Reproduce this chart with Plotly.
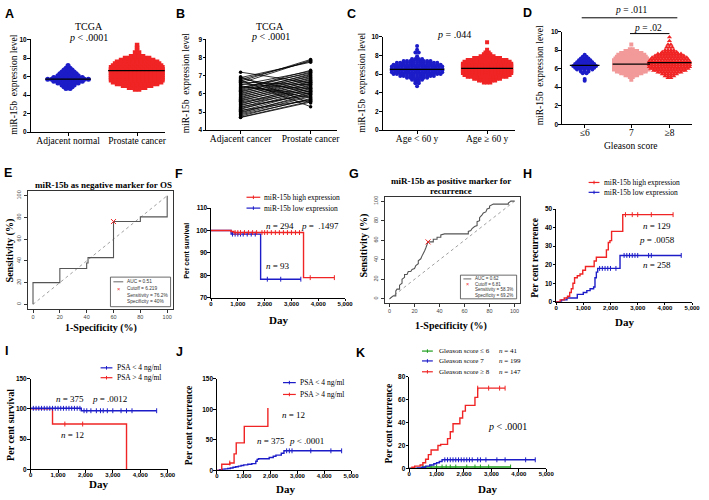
import plotly.graph_objects as go
from bisect import bisect_right

W, H = 709, 500
SANS = "Liberation Sans"
SERIF = "Liberation Serif"
BLUE = "#1c1cc8"
RED = "#f02424"
PINK = "#f29a9a"
GREEN = "#1e9e1e"

# ---------------- DATA ----------------
# A: TCGA normal vs cancer (value levels and number of dots at each level)
A_categories = ["Adjacent normal", "Prostate cancer"]
A_normal_levels = [4.7, 4.9, 5.1, 5.3, 5.5, 5.7, 5.9, 6.1, 6.3, 6.5, 6.7, 6.9, 7.2]
A_normal_counts = [2, 3, 4, 6, 8, 11, 8, 6, 5, 4, 3, 2, 1]
A_cancer_levels = [4.6, 4.8, 5.0, 5.2, 5.4, 5.6, 5.8, 6.0, 6.2, 6.4, 6.6, 6.8, 7.0, 7.2,
                   7.4, 7.6, 7.8, 8.0, 8.2, 8.6, 8.9, 9.1, 9.4]
A_cancer_counts = [2, 5, 8, 11, 13, 14, 14, 14, 14, 14, 14, 14, 14, 13, 12, 11, 9, 7, 4, 2, 1, 1, 1]
A_medians = [5.72, 6.65]

# B: paired samples
B_categories = ["Adjacent cancer", "Prostate cancer"]
B_left = [4.70, 4.72, 4.78, 4.85, 4.90, 4.95, 5.00, 5.05, 5.10, 5.15,
          5.20, 5.25, 5.30, 5.35, 5.40, 5.45, 5.50, 5.55, 5.60, 5.65,
          5.70, 5.75, 5.80, 5.85, 5.90, 5.95, 6.00, 6.05, 6.10, 6.15,
          6.20, 6.25, 6.30, 6.35, 6.40, 6.45, 6.50, 6.55, 6.60, 6.65,
          6.70, 6.75, 6.80, 6.85, 6.90, 6.95, 7.20]
B_right = [5.55, 5.60, 5.75, 5.70, 5.85, 6.00, 5.90, 6.10, 5.65, 6.20,
           6.05, 6.30, 5.95, 6.40, 6.15, 6.50, 6.25, 6.35, 6.60, 6.45,
           6.70, 6.55, 6.80, 6.65, 6.90, 6.75, 7.00, 6.85, 7.10, 6.95,
           7.05, 7.20, 7.30, 7.15, 6.00, 5.80, 7.25, 6.30, 7.85, 6.50,
           7.90, 5.30, 7.80, 6.10, 7.75, 5.50, 6.60]

# C: age groups
C_categories = ["Age &lt; 60 y", "Age ≥ 60 y"]
C_young_levels = [4.7, 5.0, 5.2, 5.4, 5.6, 5.8, 6.0, 6.2, 6.4, 6.6, 6.8, 7.0, 7.2, 7.4, 7.6, 7.9, 8.3, 8.6, 9.0]
C_young_counts = [1, 2, 2, 4, 7, 11, 15, 16, 16, 16, 16, 15, 13, 9, 4, 1, 2, 1, 1]
C_old_levels = [5.1, 5.3, 5.5, 5.7, 5.9, 6.1, 6.3, 6.5, 6.7, 6.9, 7.1, 7.3, 7.5, 7.7, 7.9, 8.1, 8.3, 8.6, 9.4]
C_old_counts = [3, 6, 9, 13, 15, 16, 16, 16, 16, 16, 16, 15, 13, 9, 5, 3, 2, 1, 1]
C_medians = [6.5, 6.6]

# D: Gleason score groups
D_categories = ["≤6", "7", "≥8"]
D_g6_levels = [4.7, 4.9, 5.5, 5.7, 5.9, 6.1, 6.3, 6.5, 6.7, 6.9, 7.1, 7.3, 7.5]
D_g6_counts = [1, 1, 2, 3, 5, 6, 7, 6, 5, 4, 3, 2, 1]
D_g7_levels = [4.8, 5.1, 5.3, 5.5, 5.7, 5.9, 6.1, 6.3, 6.5, 6.7, 6.9, 7.1, 7.3, 7.5, 7.7, 7.9, 8.1, 8.6]
D_g7_counts = [1, 2, 5, 8, 11, 13, 13, 13, 13, 13, 13, 12, 11, 10, 8, 5, 2, 1]
D_g8_levels = [5.0, 5.2, 5.4, 5.6, 5.8, 6.0, 6.2, 6.4, 6.6, 6.8, 7.0, 7.2, 7.4, 7.6, 7.8, 8.0, 8.3, 8.6, 9.0, 9.4]
D_g8_counts = [2, 4, 6, 9, 12, 14, 15, 15, 15, 15, 14, 13, 11, 9, 6, 4, 3, 2, 1, 1]
D_medians = [6.35, 6.5, 6.65]

# E: ROC, negative marker for OS
E_fpr = [0, 0, 20, 20, 40, 40, 41, 41, 60, 60, 80, 80, 100, 100]
E_tpr = [0, 20, 20, 33, 33, 38, 38, 43, 43, 76.2, 76.2, 80.5, 80.5, 100]
E_cutoff = (60, 76.2)
E_legend = ["AUC = 0.51", "Cutoff = 6.219", "Sensitivity = 76.2%", "Specificity = 40%"]

# G: ROC, positive marker for recurrence
G_roc_points = [(0, 0), (3, 3), (5, 3), (5, 8), (6, 10), (8, 10), (8, 14), (10, 16), (10, 20),
                (12, 22), (12, 25), (14, 25), (15, 28), (17, 28), (18, 30), (20, 31), (21, 34),
                (23, 36), (23, 39), (25, 41), (26, 44), (27, 46), (28, 49), (29, 52), (30.8, 58.3),
                (35, 58.3), (35, 61), (38, 61), (38, 63), (41, 63), (41, 65.5), (44, 66.5),
                (63, 66.5), (63, 69), (65, 70), (66, 72), (68, 74), (70, 75), (70, 79), (72, 80),
                (72, 83), (74, 86), (75, 88), (77, 89), (78, 92), (80, 93), (80, 95), (83, 97),
                (95, 97), (95, 98), (97, 100), (100, 100)]
G_cutoff = (30.8, 58.3)
G_legend = ["AUC = 0.62", "Cutoff = 6.81", "Sensitivity = 58.3%", "Specificity = 69.2%"]

# Kaplan-Meier curves: step times / values, end of follow-up, censor times
F_high_t = [0, 750, 850, 3450]; F_high_v = [100, 99.6, 99.1, 79]; F_high_end = 4600
F_low_t = [0, 750, 1850]; F_low_v = [100, 98.4, 78.3]; F_low_end = 3350
F_high_c = [900, 1000, 1100, 1250, 1400, 1550, 1700, 1900, 2000, 2100, 2250, 2400, 2550,
            2700, 2850, 3000, 3150, 3300, 3700, 4600]
F_low_c = [800, 900, 1000, 1100, 1200, 1350, 1500, 1650, 2100, 2600, 3350]

H_high_t = [0, 150, 300, 420, 500, 560, 620, 680, 780, 880, 980, 1080, 1400, 1480, 1850, 1920, 1980, 2040, 2450]
H_high_v = [0, 1, 2, 3, 5, 7, 10, 13, 14, 15, 17, 19, 22, 24, 28, 32, 33, 38, 47]
H_high_end = 4300
H_low_t = [0, 200, 400, 780, 1000, 1130, 1250, 1380, 1430, 1480, 1530, 2350]
H_low_v = [0, 1, 2, 4, 5, 6, 7, 8, 13, 16, 18, 25]
H_low_end = 4600
H_high_c = [2550, 2800, 3000, 3500, 4300]
H_low_c = [1600, 1700, 1800, 1900, 2000, 2200, 2500, 2600, 2700, 2800, 2900, 3000, 3400, 3500, 4600]

I_low_t = [0, 1850]; I_low_v = [101, 97]; I_low_end = 4600
I_high_t = [0, 800, 3500]; I_high_v = [100, 75, 0]; I_high_end = 3500
I_low_c = [100, 200, 300, 400, 500, 600, 700, 800, 900, 1000, 1100, 1200, 1300, 1400, 1500,
           1600, 1700, 1800, 1950, 2050, 2200, 2400, 2550, 2650, 2800, 3000, 3300, 3500, 3700, 4600]
I_high_c = [1250, 1900]

J_high_t = [0, 180, 480, 640, 720, 1020, 1900]; J_high_v = [0, 10, 12, 27, 45, 72, 102]; J_high_end = 1900
J_low_t = [0, 100, 200, 300, 400, 500, 600, 700, 800, 900, 1000, 1150, 1300, 1450, 1500, 1550,
           1950, 2100, 2200, 2400, 2500]
J_low_v = [0, 1, 2, 2.5, 3, 4, 5, 6, 7, 8, 9, 10, 11, 15, 18, 19, 21, 23, 25, 28, 32]
J_low_end = 4650
J_low_c = [2600, 2700, 2800, 3500, 4250, 4650]
J_high_c = [480]

K_g8_t = [0, 100, 200, 400, 500, 600, 700, 800, 1050, 1150, 1400, 1500, 1600, 1850, 1950, 2050, 2400, 2500]
K_g8_v = [0, 1, 2, 3, 5, 8, 12, 16, 20, 21, 26, 32, 39, 44, 50, 55, 62, 70]
K_g8_end = 3500
K_g7_t = [0, 300, 450, 600, 750, 900, 1000, 1100, 1200]
K_g7_v = [0, 0.5, 1, 2, 3, 4, 5, 6, 7.5]
K_g7_end = 4600
K_g6_t = [0, 500]; K_g6_v = [0, 1.2]; K_g6_end = 3700
K_g6_c = [500, 800, 1000, 1200, 1350, 1500, 1700, 2100, 2400, 2600, 2900, 3700]
K_g7_c = [1300, 1400, 1500, 1600, 1700, 1800, 1900, 2000, 2100, 2200, 2300, 2500, 2600, 2800,
          3200, 3500, 4250, 4600]
K_g8_c = [2500, 2900, 3300, 3500]

KM_ticks = [0, 1000, 2000, 3000, 4000, 5000]
KM_ticktext = ["0", "1,000", "2,000", "3,000", "4,000", "5,000"]
ROC_ticks = [0, 20, 40, 60, 80, 100]

# ---------------- HELPERS ----------------
fig = go.Figure()
axes_layout = {}
annotations = []
shapes = []
count = [0]


def add_axes(x0, x1, y0, y1, xr, yr, xs, ys):
    count[0] += 1
    s = '' if count[0] == 1 else str(count[0])
    axes_layout['xaxis' + s] = dict(domain=[x0 / W, x1 / W], range=xr, anchor='y' + s, **xs)
    axes_layout['yaxis' + s] = dict(domain=[1 - y1 / H, 1 - y0 / H], range=yr, anchor='x' + s, **ys)
    return 'x' + s, 'y' + s


def gp(tickvals, ticktext=None, tickfont=None, standoff=-1):
    d = dict(showline=True, linecolor='black', linewidth=1.1, ticks='outside', ticklen=2.5,
             tickwidth=1, tickcolor='black', showgrid=False, zeroline=False, tickvals=tickvals,
             tickfont=tickfont or dict(family=SANS, size=6.5, color='black', weight='bold'),
             ticklabelstandoff=standoff, fixedrange=True)
    if ticktext is not None:
        d['ticktext'] = ticktext
    return d


def r_axis(angle=0):
    return dict(showline=True, mirror=True, linecolor='#333', linewidth=1, ticks='outside',
                ticklen=3, tickwidth=0.8, tickcolor='#333', showgrid=False, zeroline=False,
                tickvals=ROC_ticks, tickangle=angle,
                tickfont=dict(family=SANS, size=5.5, color='#444'), fixedrange=True)


CAT_FONT = dict(family=SERIF, size=9.5, color='black')
KM_FONT = dict(family=SANS, size=6, color='black', weight='bold')


def ann(x, y, text, size, family=SERIF, color='black', angle=0, xanchor='center', yanchor='middle'):
    annotations.append(dict(x=x / W, y=1 - y / H, xref='paper', yref='paper', text=text,
                            showarrow=False, textangle=angle, xanchor=xanchor, yanchor=yanchor,
                            font=dict(family=family, size=size, color=color), borderpad=0))


def seg(x0, y0, x1, y1, color='black', width=1, dash=None):
    shapes.append(dict(type='line', xref='paper', yref='paper', x0=x0 / W, y0=1 - y0 / H,
                       x1=x1 / W, y1=1 - y1 / H, line=dict(color=color, width=width, dash=dash)))


def swarm(xa, ya, center, levels, counts, spacing, symbol, size, color):
    xs, ys = [], []
    for v, n in zip(levels, counts):
        for i in range(n):
            xs.append(center + (i - (n - 1) / 2) * spacing)
            ys.append(v)
    fig.add_trace(go.Scatter(x=xs, y=ys, xaxis=xa, yaxis=ya, mode='markers', hoverinfo='skip',
                             marker=dict(symbol=symbol, size=size, color=color, line=dict(width=0))))


def median_line(xa, ya, center, value, half):
    fig.add_trace(go.Scatter(x=[center - half, center + half], y=[value, value], xaxis=xa, yaxis=ya,
                             mode='lines', line=dict(color='black', width=1.3), hoverinfo='skip'))


def km(xa, ya, t, v, end, color, censor=None):
    fig.add_trace(go.Scatter(x=list(t) + [end], y=list(v) + [v[-1]], xaxis=xa, yaxis=ya, mode='lines',
                             line=dict(color=color, width=1.4, shape='hv'), hoverinfo='skip'))
    if censor:
        ys = [v[bisect_right(t, c) - 1] for c in censor]
        fig.add_trace(go.Scatter(x=censor, y=ys, xaxis=xa, yaxis=ya, mode='markers', hoverinfo='skip',
                                 marker=dict(symbol='line-ns', size=3.5, line=dict(color=color, width=1))))


def km_legend(x0, x1, y, color, text, tx, size):
    seg(x0, y, x1, y, color, 1.2)
    xm = (x0 + x1) / 2
    seg(xm, y - 1.8, xm, y + 1.8, color, 1)
    ann(tx, y, text, size, xanchor='left')


def roc_legend(x0, y0, x1, y1, rows, tx, size):
    shapes.append(dict(type='rect', xref='paper', yref='paper', x0=x0 / W, x1=x1 / W,
                       y0=1 - y1 / H, y1=1 - y0 / H, line=dict(color='#444', width=0.8),
                       fillcolor='white'))
    step = (y1 - y0) / (len(rows) + 0.4)
    for i, r in enumerate(rows):
        yy = y0 + step * (i + 0.7)
        ann(tx, yy, r, size, family=SANS, color='#333', xanchor='left')
        if i == 0:
            seg(x0 + 3, yy, x0 + (tx - x0) - 3, yy, '#555', 0.9)
        if i == 1:
            ann((x0 + tx) / 2, yy, "×", size + 1, family=SANS, color=RED)


# ---------------- PANEL A ----------------
xa, ya = add_axes(29, 165, 36, 130, [-0.543, 1.4], [0, 10],
                  gp([0, 1], A_categories, CAT_FONT, -3), gp([0, 2, 4, 6, 8, 10]))
swarm(xa, ya, 0, A_normal_levels, A_normal_counts, 0.059, 'circle', 5, BLUE)
swarm(xa, ya, 1, A_cancer_levels, A_cancer_counts, 0.058, 'square', 4.5, RED)
median_line(xa, ya, 0, A_medians[0], 0.33)
median_line(xa, ya, 1, A_medians[1], 0.42)
ann(88, 23, "TCGA", 10)
ann(88, 34, "<i>p</i> &lt; .0001", 10)
ann(12, 82, "miR-15b  expression level", 9.5, angle=-90)

# ---------------- PANEL B ----------------
xa, ya = add_axes(207, 340, 36, 128, [-0.493, 1.38], [4, 9],
                  gp([0, 1], B_categories, CAT_FONT, -3), gp([4, 5, 6, 7, 8, 9]))
bx, by = [], []
for l, r in zip(B_left, B_right):
    bx += [0, 1, None]
    by += [l, r, None]
fig.add_trace(go.Scatter(x=bx, y=by, xaxis=xa, yaxis=ya, mode='lines+markers', hoverinfo='skip',
                         line=dict(color='black', width=0.8),
                         marker=dict(symbol='circle', size=3.5, color='black')))
ann(272, 23, "TCGA", 10)
ann(272, 33, "<i>p</i> &lt; .0001", 10)
ann(187, 80, "miR-15b  expression level", 9.5, angle=-90)

# ---------------- PANEL C ----------------
xa, ya = add_axes(386, 520, 33, 128, [-0.493, 1.394], [0, 10],
                  gp([0, 1], C_categories, CAT_FONT, -3), gp([0, 2, 4, 6, 8, 10]))
swarm(xa, ya, 0, C_young_levels, C_young_counts, 0.048, 'circle', 4, BLUE)
swarm(xa, ya, 1, C_old_levels, C_old_counts, 0.046, 'square', 4, RED)
median_line(xa, ya, 0, C_medians[0], 0.39)
median_line(xa, ya, 1, C_medians[1], 0.37)
ann(458, 31, "<i>p</i> = .044", 10)
ann(365, 80, "miR-15b  expression level", 9.5, angle=-90)

# ---------------- PANEL D ----------------
D_pos = [0, 1.1, 2]
xa, ya = add_axes(568, 700, 28, 122, [-0.535, 2.535], [0, 10],
                  gp(D_pos, D_categories, CAT_FONT, -3), gp([0, 2, 4, 6, 8, 10]))
swarm(xa, ya, D_pos[0], D_g6_levels, D_g6_counts, 0.09, 'circle', 4, BLUE)
swarm(xa, ya, D_pos[1], D_g7_levels, D_g7_counts, 0.068, 'square', 4, PINK)
swarm(xa, ya, D_pos[2], D_g8_levels, D_g8_counts, 0.068, 'triangle-up', 4.5, RED)
for p, m, hw in zip(D_pos, D_medians, [0.35, 0.44, 0.52]):
    median_line(xa, ya, p, m, hw)
ann(638, 6, "<i>p</i> = .011", 9.5)
seg(588, 14, 685, 14, 'black', 1)
ann(655, 24, "<i>p</i> = .02", 9.5)
seg(637, 30, 677, 30, 'black', 1)
ann(638, 144, "Gleason score", 9.5)
ann(546, 72, "miR-15b  expression level", 9.5, angle=-90)

# ---------------- PANEL E ----------------
xa, ya = add_axes(26, 173, 190, 309, [-4, 104], [-4, 104], r_axis(0), r_axis(-90))
fig.add_trace(go.Scatter(x=[0, 100], y=[0, 100], xaxis=xa, yaxis=ya, mode='lines', hoverinfo='skip',
                         line=dict(color='#888', width=0.8, dash='dot')))
fig.add_trace(go.Scatter(x=E_fpr, y=E_tpr, xaxis=xa, yaxis=ya, mode='lines', hoverinfo='skip',
                         line=dict(color='#555', width=1.1)))
fig.add_trace(go.Scatter(x=[E_cutoff[0]], y=[E_cutoff[1]], xaxis=xa, yaxis=ya, mode='markers',
                         hoverinfo='skip', marker=dict(symbol='x-thin', size=5, line=dict(color=RED, width=1))))
roc_legend(110, 277, 171, 307, E_legend, 126, 4.8)
ann(103, 184, "<b>miR-15b as negative marker for OS</b>", 9)
ann(8, 250, "<b>Sensitivity (%)</b>", 10, angle=-90)
ann(100, 329, "<b>1-Specificity (%)</b>", 10)

# ---------------- PANEL F ----------------
xa, ya = add_axes(212, 348, 207, 298, [0, 5000], [70, 110],
                  gp(KM_ticks, KM_ticktext, KM_FONT, -3), gp([70, 80, 90, 100, 110]))
km(xa, ya, F_low_t, F_low_v, F_low_end, BLUE, F_low_c)
km(xa, ya, F_high_t, F_high_v, F_high_end, RED, F_high_c)
km_legend(248, 262, 196, RED, "miR-15b high expression", 265, 7.5)
km_legend(248, 262, 207, BLUE, "miR-15b low expression", 265, 7.5)
ann(282, 225, "<i>n</i> = 294", 9)
ann(323, 225, "<i>p</i> =  .1497", 9)
ann(280, 266, "<i>n</i> = 93", 9)
ann(187, 250, "<b>Per cent survival</b>", 7, family=SANS, angle=-90)
ann(280, 320, "<b>Day</b>", 11)

# ---------------- PANEL G ----------------
xa, ya = add_axes(388, 525, 196, 303, [-4, 104], [-4, 104], r_axis(0), r_axis(-90))
fig.add_trace(go.Scatter(x=[0, 100], y=[0, 100], xaxis=xa, yaxis=ya, mode='lines', hoverinfo='skip',
                         line=dict(color='#888', width=0.8, dash='dot')))
fig.add_trace(go.Scatter(x=[p[0] for p in G_roc_points], y=[p[1] for p in G_roc_points],
                         xaxis=xa, yaxis=ya, mode='lines', hoverinfo='skip',
                         line=dict(color='#555', width=1.1)))
fig.add_trace(go.Scatter(x=[G_cutoff[0]], y=[G_cutoff[1]], xaxis=xa, yaxis=ya, mode='markers',
                         hoverinfo='skip', marker=dict(symbol='x-thin', size=5, line=dict(color=RED, width=1))))
roc_legend(465, 275, 522, 299, G_legend, 479, 4.5)
ann(455, 180, "<b>miR-15b as positive marker for</b>", 9)
ann(455, 190, "<b>recurrence</b>", 9)
ann(367, 245, "<b>Sensitivity (%)</b>", 10, angle=-90)
ann(455, 327, "<b>1-Specificity (%)</b>", 10)

# ---------------- PANEL H ----------------
xa, ya = add_axes(562, 700, 208, 302, [0, 5000], [0, 50],
                  gp(KM_ticks, KM_ticktext, KM_FONT, -3), gp([0, 10, 20, 30, 40, 50]))
km(xa, ya, H_low_t, H_low_v, H_low_end, BLUE, H_low_c)
km(xa, ya, H_high_t, H_high_v, H_high_end, RED, H_high_c)
km_legend(595, 606, 181, RED, "miR-15b high expression", 610, 7.5)
km_legend(595, 606, 191, BLUE, "miR-15b low expression", 610, 7.5)
ann(664, 225, "<i>n</i> = 129", 9)
ann(664, 239, "<i>p</i> = .0058", 9)
ann(664, 265, "<i>n</i> = 258", 9)
ann(541, 257, "<b>Per cent recurrence</b>", 9.5, angle=-90)
ann(631, 323, "<b>Day</b>", 11)

# ---------------- PANEL I ----------------
xa, ya = add_axes(29, 168, 380, 472, [0, 5000], [0, 150],
                  gp(KM_ticks, KM_ticktext, KM_FONT, -3), gp([0, 50, 100, 150]))
km(xa, ya, I_high_t, I_high_v, I_high_end, RED, I_high_c)
km(xa, ya, I_low_t, I_low_v, I_low_end, BLUE, I_low_c)
km_legend(100, 112, 369, BLUE, "PSA &lt; 4 ng/ml", 116, 7.5)
km_legend(100, 112, 379, RED, "PSA &gt; 4 ng/ml", 116, 7.5)
ann(69, 401, "<i>n</i> = 375", 9)
ann(109, 401, "<i>p</i> = .0012", 9)
ann(72, 437, "<i>n</i> = 12", 9)
ann(8, 427, "<b>Per cent survival</b>", 10, angle=-90)
ann(98, 487, "<b>Day</b>", 11)

# ---------------- PANEL J ----------------
xa, ya = add_axes(218, 354, 380, 473, [0, 5000], [0, 150],
                  gp(KM_ticks, KM_ticktext, KM_FONT, -3), gp([0, 50, 100, 150]))
km(xa, ya, J_low_t, J_low_v, J_low_end, BLUE, J_low_c)
km(xa, ya, J_high_t, J_high_v, J_high_end, RED, J_high_c)
km_legend(285, 298, 384, BLUE, "PSA &lt; 4 ng/ml", 301, 7.5)
km_legend(285, 298, 396, RED, "PSA &gt; 4 ng/ml", 301, 7.5)
ann(296, 417, "<i>n</i> = 12", 9)
ann(273, 443, "<i>n</i> = 375", 9)
ann(309, 443, "<i>p</i> &lt; .0001", 9)
ann(190, 427, "<b>Per cent recurrence</b>", 9.5, angle=-90)
ann(288, 492, "<b>Day</b>", 11)

# ---------------- PANEL K ----------------
xa, ya = add_axes(413, 552, 378, 471, [0, 5000], [0, 80],
                  gp(KM_ticks, KM_ticktext, KM_FONT, -3), gp([0, 20, 40, 60, 80]))
km(xa, ya, K_g6_t, K_g6_v, K_g6_end, GREEN, K_g6_c)
km(xa, ya, K_g7_t, K_g7_v, K_g7_end, BLUE, K_g7_c)
km(xa, ya, K_g8_t, K_g8_v, K_g8_end, RED, K_g8_c)
km_legend(426, 437, 352, GREEN, "Gleason score ≤ 6", 442, 7)
km_legend(426, 437, 362, BLUE, "Gleason score 7", 442, 7)
km_legend(426, 437, 373, RED, "Gleason score ≥ 8", 442, 7)
ann(503, 352, "<i>n</i> = 41", 7, xanchor='left')
ann(503, 362, "<i>n</i> = 199", 7, xanchor='left')
ann(503, 373, "<i>n</i> = 147", 7, xanchor='left')
ann(513, 429, "<i>p</i> &lt; .0001", 10)
ann(393, 425, "<b>Per cent recurrence</b>", 9.5, angle=-90)
ann(492, 492, "<b>Day</b>", 11)

# ---------------- PANEL LETTERS ----------------
for letter, lx, ly in [("A", 8, 10), ("B", 181, 10), ("C", 355, 10), ("D", 533, 9),
                       ("E", 6, 171), ("F", 180, 172), ("G", 357, 172), ("H", 533, 172),
                       ("I", 5, 352), ("J", 180, 353), ("K", 364, 354)]:
    ann(lx, ly, "<b>" + letter + "</b>", 12.5, family=SANS)

fig.update_layout(width=W, height=H, margin=dict(l=0, r=0, t=0, b=0), showlegend=False,
                  paper_bgcolor='white', plot_bgcolor='rgba(0,0,0,0)',
                  annotations=annotations, shapes=shapes, **axes_layout)
fig.write_html("out.html", config={'displayModeBar': False},
               post_script="document.body.style.margin='0';document.body.style.padding='0';"
                           "document.body.style.overflow='hidden';")
